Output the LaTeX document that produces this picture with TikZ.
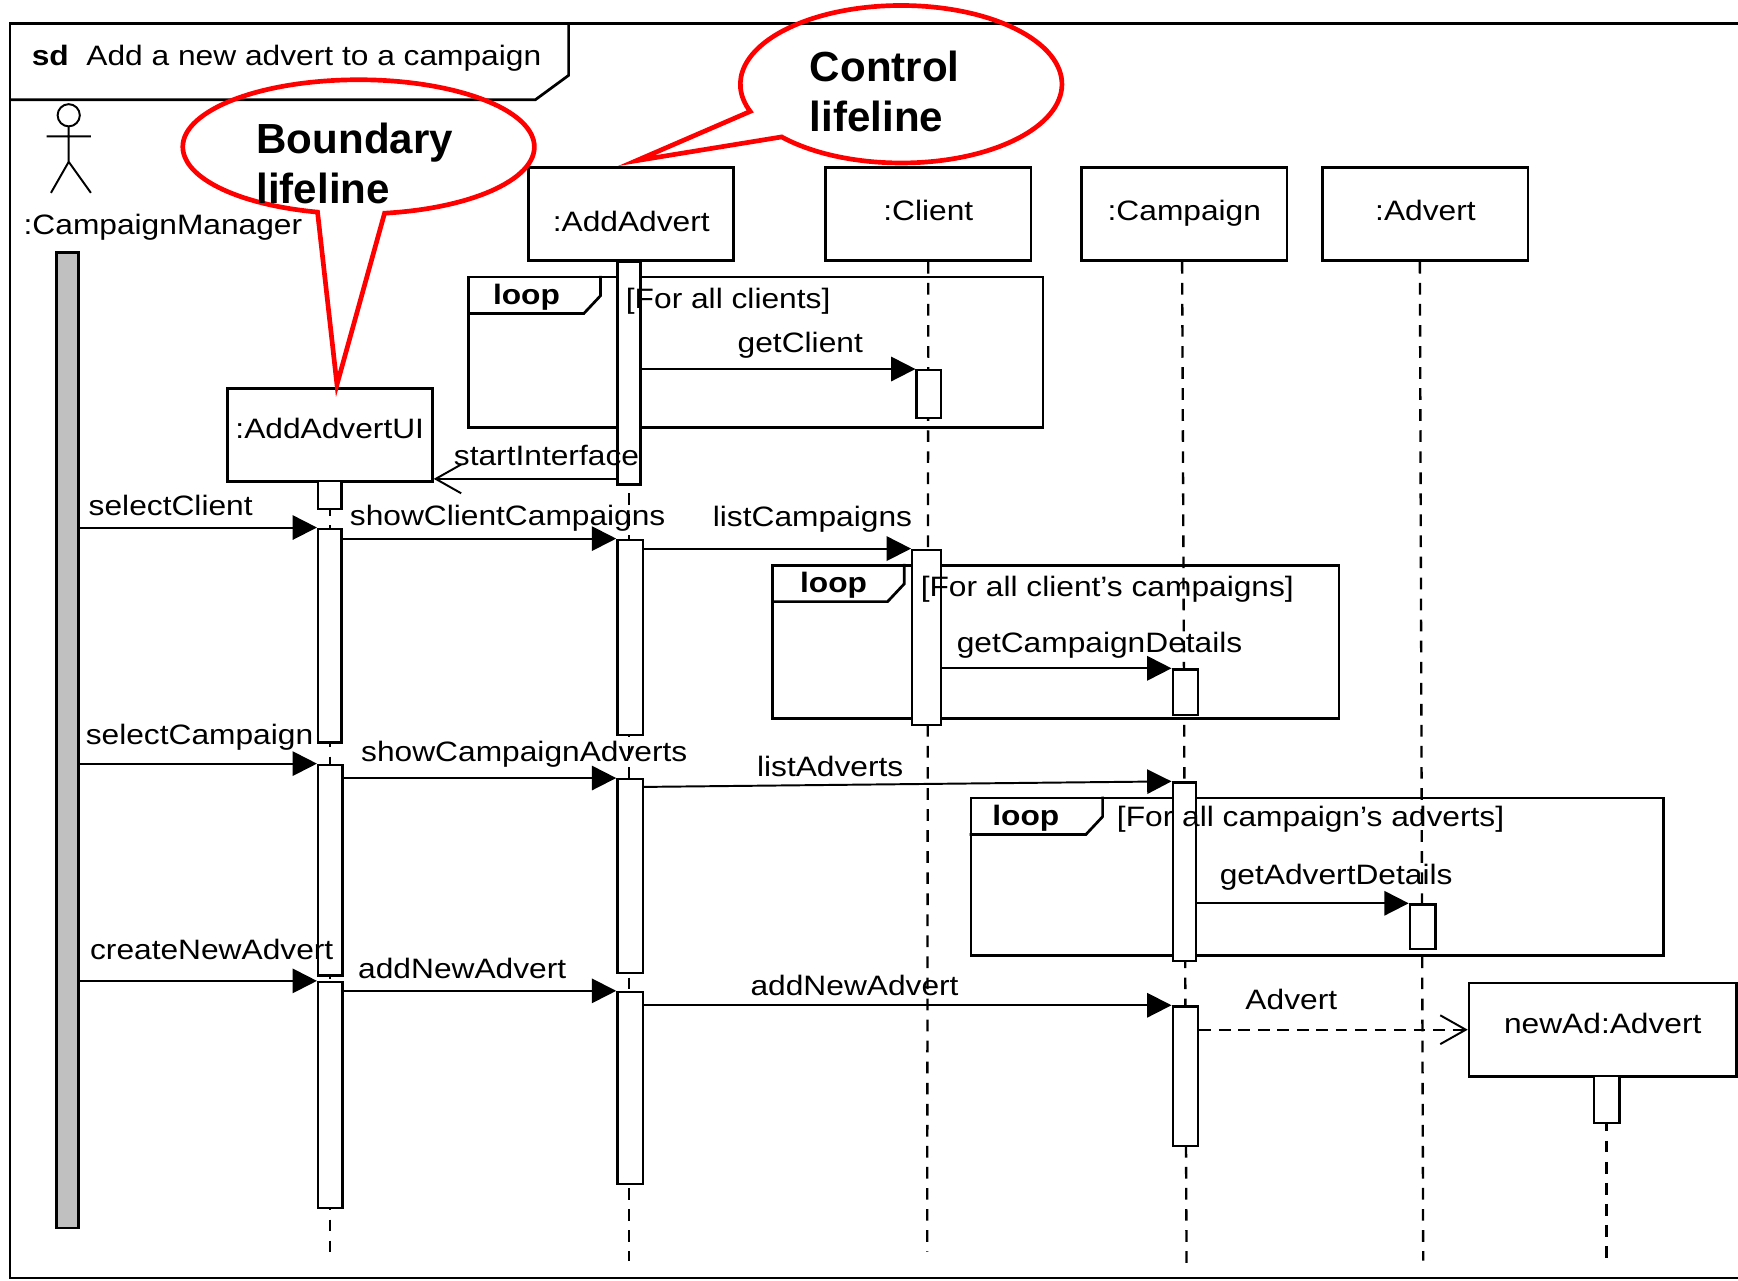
\documentclass[tikz,border=0pt]{standalone}
\usepackage{fontspec}
\setmainfont{Liberation Sans}[FakeStretch=1.13]
\newfontfamily\notefont{Liberation Sans}
\usetikzlibrary{arrows.meta,fit}

\definecolor{actorgray}{RGB}{192,192,192}

\tikzset{
  obj/.style={draw, line width=0.7pt, minimum width=1.85cm, minimum height=0.84cm, inner sep=0pt, text height=5.2pt, text depth=1.9pt},
  bar/.style={draw, line width=0.6pt, fill=white, inner sep=0pt},
  frag/.style={draw, line width=0.7pt, inner sep=0pt},
  lifeline/.style={line width=0.6pt, dash pattern=on 3pt off 2.4pt},
  msg/.style={line width=0.5pt, -{Triangle[length=0.22cm,width=0.22cm]}},
  reply/.style={line width=0.5pt, -{Straight Barb[length=0.23cm,width=0.26cm]}},
  create/.style={reply, dash pattern=on 3pt off 2pt},
  lbl/.style={anchor=base, inner sep=0pt},
  guard/.style={anchor=base west, inner sep=0pt},
  opname/.style={anchor=base, inner sep=0pt, font=\fontsize{7.2}{8.6}\selectfont\bfseries},
  callout/.style={draw=red, line width=1.2pt},
  note/.style={anchor=north west, align=left, inner sep=0pt, font=\notefont\fontsize{10.8}{13}\selectfont\bfseries},
}

\begin{document}
\begin{tikzpicture}[x=0.01cm, y=-0.01cm, font=\fontsize{7.2}{8.6}\selectfont]
	\useasboundingbox (0,0) rectangle (1568,1155);
	
	% sd frame
	\draw[line width=0.7pt] (1600,21) -- (9,21) -- (9,1153) -- (1600,1153);
	\draw[line width=0.7pt] (513,21) -- (513,68) -- (483,90) -- (9,90);
	\node[anchor=base west, inner sep=0pt] (title) at (28,59.5) {\textbf{sd}\ \ Add a new advert to a campaign};
	
	% actor
	\draw[line width=0.5pt] (62,104) circle[radius=0.1cm];
	\draw[line width=0.5pt] (62,114) -- (62,146) (42,123) -- (82,123) (46,174) -- (62,146) -- (82,174);
	\node[lbl] (cmName) at (147,212) {:CampaignManager};
	
	% objects
	\node[obj, text height=11pt] (aa) at (569.5,193) {:AddAdvert};
	\node[obj] (cl) at (837.5,193) {:Client};
	\node[obj] (cp) at (1068.5,193) {:Campaign};
	\node[obj] (ad) at (1286,193) {:Advert};
	\node[obj, text height=4pt, text depth=2pt] (ui) at (297.5,392.5) {:AddAdvertUI};
	\node[obj, minimum width=2.41cm, text height=3.7pt, text depth=2pt] (na) at (1446,929) {newAd:Advert};
	
	% lifelines
	\draw[lifeline] (ui.south) -- ++(0,696);
	\draw[lifeline] ([xshift=-0.02cm]aa.south) -- ++(0,901);
	\draw[lifeline] (cl.south) -- ++(-1,893);
	\draw[lifeline] ([xshift=-0.02cm]cp.south) -- ++(4,903);
	\draw[lifeline] ([xshift=-0.05cm]ad.south) -- ++(3,901);
	\draw[lifeline] ([xshift=0.035cm]na.south) -- ++(0,165);
	
	% loops
	\node[frag, fit={(423,250) (941,386)}] (loop1) {};
	\draw[line width=0.7pt] ([yshift=-0.34cm]loop1.north west) -- ++(105,0) -- ++(15,-16) -- ++(0,-18);
	\node[frag, fit={(697,510) (1208,648)}] (loop2) {};
	\draw[line width=0.7pt] ([yshift=-0.34cm]loop2.north west) -- ++(105,0) -- ++(15,-16) -- ++(0,-18);
	\node[frag, fit={(876,720) (1501,862)}] (loop3) {};
	\draw[line width=0.7pt] ([yshift=-0.34cm]loop3.north west) -- ++(105,0) -- ++(15,-16) -- ++(0,-18);
	
	% activation bars
	\node[bar, fill=actorgray, line width=0.7pt, fit={(51,228) (71,1108)}] (cm) {};
	\node[bar, fit={(287,434) (308,459)}] (ui1) {};
	\node[bar, fit={(287,477) (308,670)}] (ui2) {};
	\node[bar, fit={(287,690) (309,880)}] (ui3) {};
	\node[bar, fit={(287,886) (309,1090)}] (ui4) {};
	\node[bar, fit={(557,236) (578,437)}] (aa1) {};
	\node[bar, fit={(557,487) (580,663)}] (aa2) {};
	\node[bar, fit={(557,703) (580,878)}] (aa3) {};
	\node[bar, fit={(557,895) (580,1068)}] (aa4) {};
	\node[bar, fit={(827,334) (849,377)}] (cl1) {};
	\node[bar, fit={(823,496) (849,654)}] (cl2) {};
	\node[bar, fit={(1058,604) (1081,645)}] (cp1) {};
	\node[bar, fit={(1058,706) (1079,867)}] (cp2) {};
	\node[bar, fit={(1058,908) (1081,1034)}] (cp3) {};
	\node[bar, fit={(1272,816) (1295,856)}] (ad1) {};
	\node[bar, fit={(1438,971) (1461,1013)}] (na1) {};
	
	% loop operators and guards
	\node[opname] (loop1op) at (475,275) {loop};
	\node[guard] (loop1guard) at (564,278) {[For all clients]};
	\node[opname] (loop2op) at (752,535) {loop};
	\node[guard] (loop2guard) at (830,538.5) {[For all client’s campaigns]};
	\node[opname] (loop3op) at (925.5,744.5) {loop};
	\node[guard] (loop3guard) at (1007,746) {[For all campaign’s adverts]};
	
	% messages
	\draw[msg] (aa1.east |- cl1.north west) -- (cl1.north west);
	\coordinate (siStart) at ([yshift=0.06cm]aa1.south west);
	\draw[reply] (siStart) -- (ui.east |- siStart);
	\draw[msg] (cm.east |- ui2.north west) -- (ui2.north west);
	\draw[msg] (ui2.east |- aa2.north west) -- (aa2.north west);
	\draw[msg] (aa2.east |- cl2.north west) -- (cl2.north west);
	\draw[msg] (cl2.east |- cp1.north west) -- (cp1.north west);
	\draw[msg] (cm.east |- ui3.north west) -- (ui3.north west);
	\draw[msg] (ui3.east |- aa3.north west) -- (aa3.north west);
	\draw[msg] ([yshift=-0.08cm]aa3.north east) -- (cp2.north west);
	\draw[msg] (cp2.east |- ad1.north west) -- (ad1.north west);
	\draw[msg] (cm.east |- ui4.north west) -- (ui4.north west);
	\draw[msg] (ui4.east |- aa4.north west) -- (aa4.north west);
	\draw[msg] (aa4.east |- cp3.north west) -- (cp3.north west);
	\draw[create] (cp3.east |- na.west) -- (na.west);
	
	\node[lbl] (getClientLbl) at (722,318) {getClient};
	\node[lbl] (startInterfaceLbl) at (493,420) {startInterface};
	\node[lbl] (selectClientLbl) at (154,465) {selectClient};
	\node[lbl] (showClientCampaignsLbl) at (458,474) {showClientCampaigns};
	\node[lbl] (listCampaignsLbl) at (733,475) {listCampaigns};
	\node[lbl] (getCampaignDetailsLbl) at (992,589) {getCampaignDetails};
	\node[lbl] (selectCampaignLbl) at (180,672) {selectCampaign};
	\node[lbl] (showCampaignAdvertsLbl) at (473,687) {showCampaignAdverts};
	\node[lbl] (listAdvertsLbl) at (749,701) {listAdverts};
	\node[lbl] (getAdvertDetailsLbl) at (1205.5,798) {getAdvertDetails};
	\node[lbl] (createNewAdvertLbl) at (191,866) {createNewAdvert};
	\node[lbl] (addNewAdvertLbl) at (417,883) {addNewAdvert};
	\node[lbl] (addNewAdvertLblB) at (771,898) {addNewAdvert};
	\node[lbl] (advertLbl) at (1165,911) {Advert};
	
	% callouts
	\draw[callout] (323.5,132.5) ++(278.5:1.585cm and 0.605cm) arc[start angle=278.5, end angle=616.5, x radius=1.585cm, y radius=0.605cm] -- (304,347) -- cycle;
	\node[note] (boundaryNote) at (230.7,110) {Boundary\\lifeline};
	\draw[callout] (813,76) ++(222:1.45cm and 0.71cm) arc[start angle=222, end angle=560.2, x radius=1.45cm, y radius=0.71cm] -- (574,145) -- cycle;
	\node[note] (controlNote) at (730,45) {Control\\lifeline};
\end{tikzpicture}
\end{document}
